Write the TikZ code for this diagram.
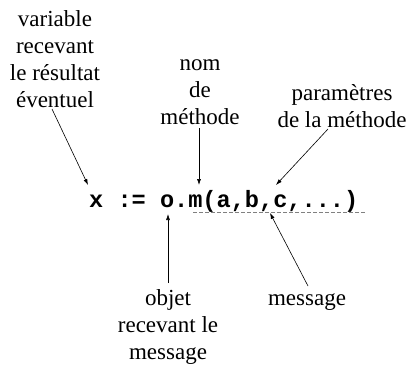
\documentclass[tikz,border=0pt]{standalone}
\usepackage{fontspec}
\setmainfont{Liberation Serif}
\newfontfamily\codefont{Liberation Mono}
\usetikzlibrary{arrows.meta}
\begin{document}
\begin{tikzpicture}[x=1pt,y=-1pt,
  lbl/.style={inner sep=0pt,align=center,font=\fontsize{23}{27}\selectfont},
  code/.style={inner sep=0pt,font=\codefont\bfseries\fontsize{23.6}{27}\selectfont},
  arr/.style={line width=0.6pt,-{Latex[length=6pt,width=4pt]}}]
\path[use as bounding box] (0,0) rectangle (410,365);
\node[lbl] (var) at (55,59) {variable\\recevant\\le résultat\\éventuel};
\node[lbl] (nom) at (200,92) {nom\\de\\méthode};
\node[lbl] (par) at (342,106) {paramètres\\de la méthode};
\node[code,anchor=base west] (c) at (89,207) {x := o.m(a,b,c,...)};
\node[lbl] (obj) at (168,327) {objet\\recevant le\\message};
\node[lbl] (msg) at (307,302) {message};
\coordinate (s1) at (52,109); \coordinate (e1) at (88,185);
\coordinate (s2) at (199,128); \coordinate (e2) at (199,185);
\coordinate (s3) at (328,129); \coordinate (e3) at (276,185);
\coordinate (s4) at (168,283); \coordinate (e4) at (168,214);
\coordinate (s5) at (308,286); \coordinate (e5) at (270,213);
\coordinate (d1) at (193,212); \coordinate (d2) at (366,212);
\draw[arr] (s1) -- (e1);
\draw[arr] (s2) -- (e2);
\draw[arr] (s3) -- (e3);
\draw[arr] (s4) -- (e4);
\draw[arr] (s5) -- (e5);
\draw[gray,line width=0.6pt,dash pattern=on 3.5pt off 2.5pt] (d1) -- (d2);
\end{tikzpicture}
\end{document}
